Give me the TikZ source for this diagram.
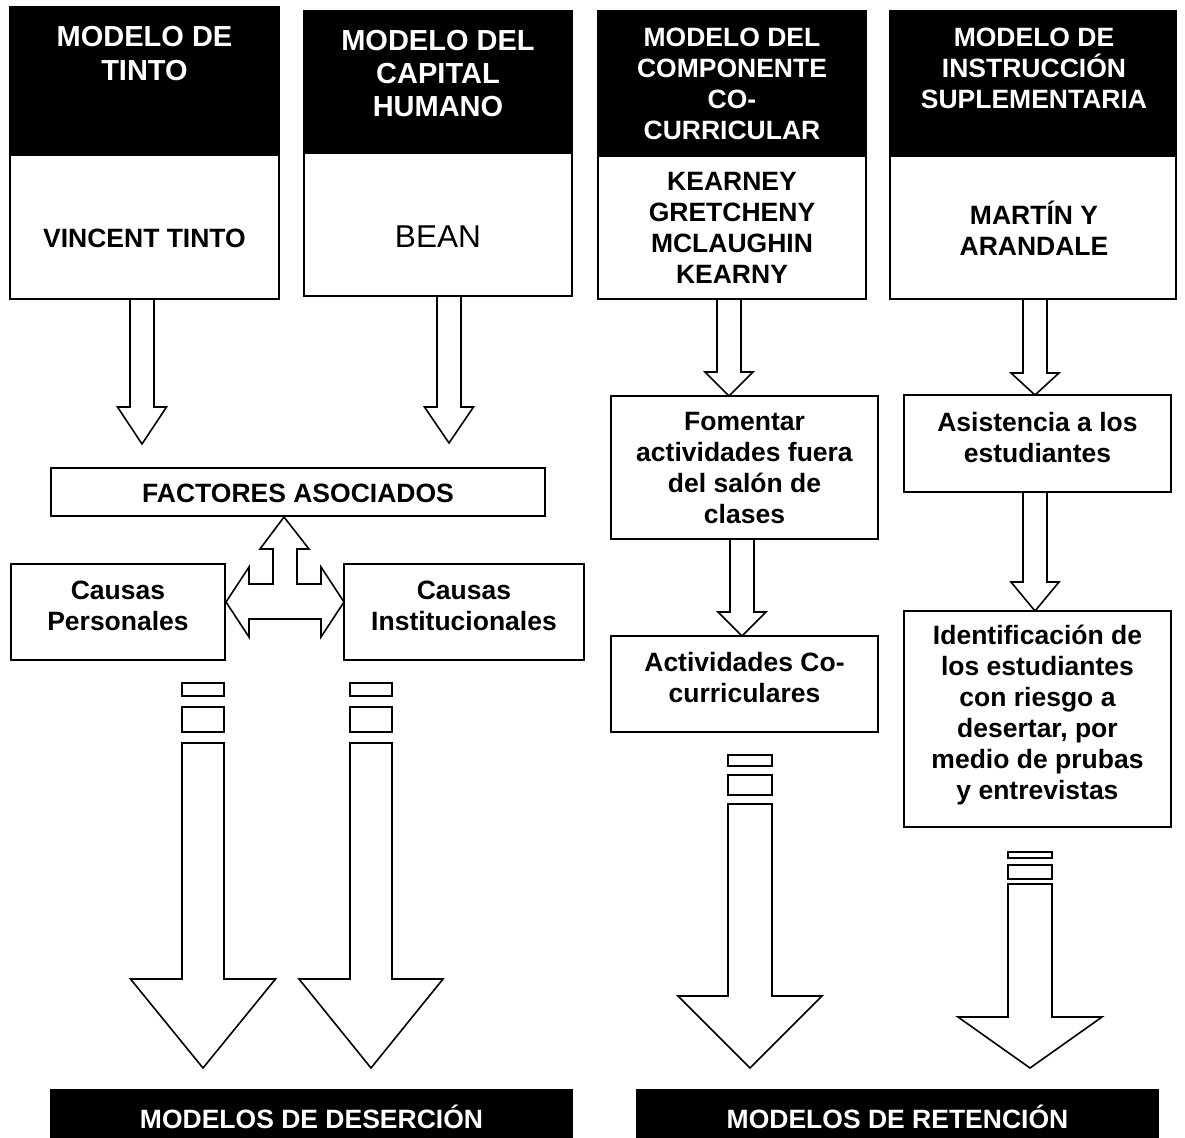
\documentclass[tikz,border=0pt]{standalone}
\usepackage{fontspec}
\setmainfont{Liberation Sans}
\usetikzlibrary{fit}

% type sizes
\newcommand\bodyf{\fontsize{13.25}{15.5}\selectfont\bfseries}
\newcommand\headf{\fontsize{14.5}{16.7}\selectfont\bfseries}
\newcommand\beanf{\fontsize{15.8}{18}\selectfont}

% hollow block arrow pointing down:
% #1 centre x, #2 top of shaft, #3 head base, #4 tip, #5 shaft half width, #6 head half width
\newcommand\blkdown[6]{%
  \draw[barrow] ({#1-#5},#2) -- ({#1-#5},#3) -- ({#1-#6},#3) -- (#1,#4)
    -- ({#1+#6},#3) -- ({#1+#5},#3) -- ({#1+#5},#2) -- cycle;}

% striped block arrow: two cut slices above the shaft
% #1 centre x, #2 half width, #3/#4 first slice, #5/#6 second slice,
% #7 shaft top, #8 head base, #9 head half width; tip at 1068
\newcommand\stripdown[9]{%
  \draw[barrow] ({#1-#2},#3) rectangle ({#1+#2},#4);
  \draw[barrow] ({#1-#2},#5) rectangle ({#1+#2},#6);
  \blkdown{#1}{#7}{#8}{1068}{#2}{#9}}

\begin{document}
\begin{tikzpicture}[x=0.5pt,y=-0.5pt,
  hdr/.style={draw=black,fill=black,inner sep=0pt,line width=0.6pt},
  wbox/.style={draw=black,fill=white,inner sep=0pt,line width=1pt},
  htxt/.style={text=white,align=center,inner sep=0pt},
  btxt/.style={text=black,align=center,inner sep=0pt,font=\bodyf},
  barrow/.style={draw=black,fill=white,line width=0.8pt,line join=miter}]
\useasboundingbox (0,0) rectangle (1185,1137);

% ---- column headers ----
\node[hdr,fit={(10,7) (279,153)}] (h1) {};
\node[hdr,fit={(304,11) (572,153)}] (h2) {};
\node[hdr,fit={(598,11) (866,156)}] (h3) {};
\node[hdr,fit={(890,11) (1176,156)}] (h4) {};
\node[htxt,font=\headf] (h1t) at (144.5,53.5) {MODELO DE\\TINTO};
\node[htxt,font=\headf] (h2t) at (438,73.5) {MODELO DEL\\CAPITAL\\HUMANO};
\node[htxt,font=\bodyf] (h3t) at (732,84) {MODELO DEL\\COMPONENTE\\CO-\\CURRICULAR};
\node[htxt,font=\bodyf] (h4t) at (1034,68.5) {MODELO DE\\INSTRUCCIÓN\\SUPLEMENTARIA};

% ---- authors ----
\node[wbox,fit={(10,155) (279,299)}] (w1) {};
\node[wbox,fit={(304,153) (572,296)}] (w2) {};
\node[wbox,fit={(598,156) (866,299)}] (w3) {};
\node[wbox,fit={(890,156) (1176,299)}] (w4) {};
\node[btxt] (w1t) at (144.5,238) {VINCENT TINTO};
\node[btxt,font=\beanf] (w2t) at (438,237) {BEAN};
\node[btxt] (w3t) at (732,227.5) {KEARNEY\\GRETCHENY\\MCLAUGHIN\\KEARNY};
\node[btxt] (w4t) at (1034,228) {MARTÍN Y\\ARANDALE};

% ---- desertion branch ----
\node[wbox,fit={(51,468) (545,516)}] (fa) {};
\node[btxt] (fat) at (298,493) {FACTORES ASOCIADOS};
\node[wbox,fit={(11,564) (225,660)}] (cp) {};
\node[btxt] (cpt) at (118,606) {Causas\\Personales};
\node[wbox,fit={(344,564) (584,660)}] (ci) {};
\node[btxt] (cit) at (464,606) {Causas\\Institucionales};

% ---- retention branch ----
\node[wbox,fit={(611,396) (878,539)}] (fo) {};
\node[btxt] (fot) at (744.5,468) {Fomentar\\actividades fuera\\del salón de\\clases};
\node[wbox,fit={(611,636) (878,732)}] (ac) {};
\node[btxt] (act) at (744.5,677.5) {Actividades Co-\\curriculares};
\node[wbox,fit={(904,395) (1171,492)}] (as) {};
\node[btxt] (ast) at (1037.5,438) {Asistencia a los\\estudiantes};
\node[wbox,fit={(904,611) (1171,827)}] (id) {};
\node[btxt] (idt) at (1037.5,715) {Identificación de\\los estudiantes\\con riesgo a\\desertar, por\\medio de prubas\\y entrevistas};

% ---- block arrows between boxes ----
\blkdown{142}{299}{407}{444}{12}{24.5}
\blkdown{449}{296}{407}{443}{12}{24.5}
\blkdown{729}{299}{372}{396}{12}{24}
\blkdown{1035}{299}{373}{395}{12}{24}
\blkdown{742}{539}{612}{636}{12}{24}
\blkdown{1035}{492}{582}{611}{12}{24}

% three-way arrow joining the causes with the factors
\draw[barrow] (284,517) -- (309,549) -- (297,549) -- (297,584) -- (321,584)
  -- (321,567) -- (344,602) -- (321,637) -- (321,619) -- (249,619)
  -- (249,637) -- (226,602) -- (249,567) -- (249,584) -- (273,584)
  -- (273,549) -- (260,549) -- cycle;

% ---- striped arrows to the summaries ----
\stripdown{203}{21}{683}{696}{707}{732}{743}{979}{72.5}
\stripdown{371}{21}{683}{696}{707}{732}{743}{979}{72}
\stripdown{750}{22}{755}{766}{775}{795}{804}{996}{72}
\stripdown{1030}{22}{852}{858}{865}{879}{884}{1017}{72}

% ---- summaries ----
\node[hdr,fit={(51,1090) (572,1137)}] (md) {};
\node[htxt,font=\bodyf] (mdt) at (311.5,1117) {MODELOS DE DESERCIÓN};
\node[hdr,fit={(637,1090) (1158,1137)}] (mr) {};
\node[htxt,font=\bodyf] (mrt) at (897.5,1117) {MODELOS DE RETENCIÓN};
\end{tikzpicture}
\end{document}
